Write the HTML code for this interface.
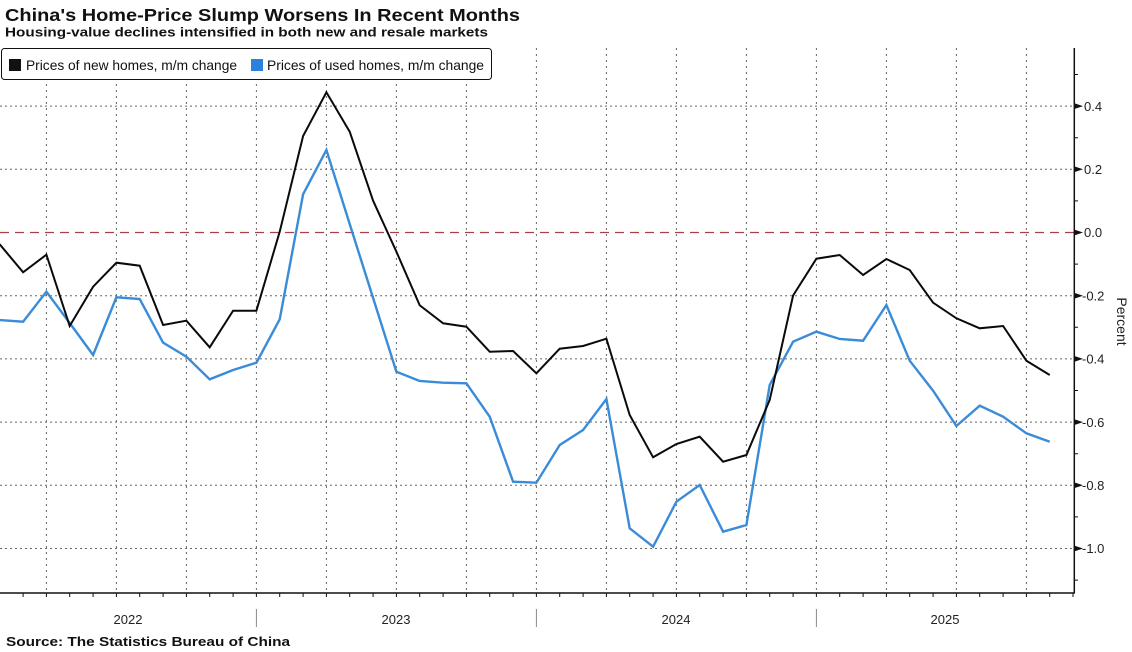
<!DOCTYPE html>
<html>
<head>
<meta charset="utf-8">
<style>
  html, body { margin: 0; padding: 0; background: #fff; }
  body { width: 1132px; height: 652px; overflow: hidden; }
  svg { display: block; }
  text { font-family: "Liberation Sans", "DejaVu Sans", sans-serif; }
</style>
</head>
<body>
<svg width="1132" height="652" viewBox="0 0 1132 652" xmlns="http://www.w3.org/2000/svg">
  <rect x="0" y="0" width="1132" height="652" fill="#ffffff"/>

  <text x="5" y="21" font-size="17.5" font-weight="bold" fill="#111" textLength="515" lengthAdjust="spacingAndGlyphs">China's Home-Price Slump Worsens In Recent Months</text>
  <text x="5" y="36.5" font-size="13" font-weight="bold" fill="#111" textLength="483" lengthAdjust="spacingAndGlyphs">Housing-value declines intensified in both new and resale markets</text>

  <path d="M0 106.1H1074M0 169.3H1074M0 295.7H1074M0 358.9H1074M0 422.1H1074M0 485.3H1074M0 548.5H1074" stroke="#666" stroke-width="1" stroke-dasharray="2 3" fill="none"/>

  <path d="M46.4 48V593M116.4 48V593M186.4 48V593M256.4 48V593M326.4 48V593M396.4 48V593M466.4 48V593M536.4 48V593M606.4 48V593M676.4 48V593M746.4 48V593M816.4 48V593M886.4 48V593M956.4 48V593M1026.4 48V593" stroke="#666" stroke-width="1" stroke-dasharray="2 4" fill="none"/>

  <line x1="0" y1="232.5" x2="1074" y2="232.5" stroke="#a8404c" stroke-width="1.2" stroke-dasharray="9 6"/>

  <rect x="1.5" y="48.5" width="490" height="31" rx="3" ry="3" fill="#fff" stroke="#111" stroke-width="1"/>
  <rect x="9" y="59" width="12" height="12" fill="#111"/>
  <text x="26" y="70" font-size="14" fill="#111" textLength="211" lengthAdjust="spacingAndGlyphs">Prices of new homes, m/m change</text>
  <rect x="251" y="59" width="12" height="12" fill="#2b82dc"/>
  <text x="267" y="70" font-size="14" fill="#111" textLength="217" lengthAdjust="spacingAndGlyphs">Prices of used homes, m/m change</text>

  <polyline fill="none" stroke="#3a8cd8" stroke-width="2.4" points="-0.3,320 23.1,321.7 46.4,291.7 69.7,323 93.1,355 116.4,297.3 139.7,299 163.1,342.7 186.4,356.7 209.7,379.3 233.1,370 256.4,362.7 279.7,319.3 303.1,194.3 326.4,150 349.7,224 373.1,298 396.4,371.7 419.7,381 443.1,382.7 466.4,383.3 489.7,416.7 513.1,481.7 536.4,482.7 559.7,445 583.1,430 606.4,399 629.7,528.3 653.1,546.7 676.4,501.7 699.7,485 723.1,531.7 746.4,525 769.7,385 793.1,341.7 816.4,331.7 839.7,339 863.1,340.7 886.4,305 909.7,360.7 933.1,390.7 956.4,426 979.7,405.7 1003.1,416.7 1026.4,433.3 1049.7,441.7"/>

  <polyline fill="none" stroke="#0a0a0a" stroke-width="2" points="-0.3,244.3 23.1,272.3 46.4,254.7 69.7,326 93.1,286.7 116.4,262.7 139.7,265.7 163.1,325 186.4,320.7 209.7,347.3 233.1,310.7 256.4,310.7 279.7,231.7 303.1,136 326.4,92.3 349.7,131.7 373.1,200.7 396.4,251.7 419.7,305.3 443.1,323.3 466.4,326.7 489.7,351.7 513.1,351 536.4,373.3 559.7,348.7 583.1,346 606.4,338.7 629.7,415 653.1,457.3 676.4,444 699.7,436.7 723.1,461.7 746.4,455 769.7,400 793.1,295.5 816.4,258.7 839.7,255 863.1,275 886.4,259 909.7,270 933.1,302.7 956.4,318.3 979.7,328.3 1003.1,326 1026.4,360.7 1049.7,375"/>

  <line x1="0" y1="593" x2="1074.5" y2="593" stroke="#111" stroke-width="1.5"/>
  <path d="M23.1 593v4M46.4 593v4M69.7 593v4M93.1 593v4M116.4 593v4M139.7 593v4M163.1 593v4M186.4 593v4M209.7 593v4M233.1 593v4M256.4 593v4M279.7 593v4M303.1 593v4M326.4 593v4M349.7 593v4M373.1 593v4M396.4 593v4M419.7 593v4M443.1 593v4M466.4 593v4M489.7 593v4M513.1 593v4M536.4 593v4M559.7 593v4M583.1 593v4M606.4 593v4M629.7 593v4M653.1 593v4M676.4 593v4M699.7 593v4M723.1 593v4M746.4 593v4M769.7 593v4M793.1 593v4M816.4 593v4M839.7 593v4M863.1 593v4M886.4 593v4M909.7 593v4M933.1 593v4M956.4 593v4M979.7 593v4M1003.1 593v4M1026.4 593v4M1049.7 593v4M1073 593v4" stroke="#111" stroke-width="1" fill="none"/>

  <path d="M256.4 609V627M536.4 609V627M816.4 609V627" stroke="#888" stroke-width="1" fill="none"/>

  <g font-size="13" fill="#222" text-anchor="middle">
    <text x="128" y="624">2022</text>
    <text x="396" y="624">2023</text>
    <text x="676" y="624">2024</text>
    <text x="945" y="624">2025</text>
  </g>

  <line x1="1074.3" y1="48" x2="1074.3" y2="593.5" stroke="#111" stroke-width="1.5"/>
  <path d="M1074 74.5h4M1074 137.7h4M1074 200.9h4M1074 264.1h4M1074 327.3h4M1074 390.5h4M1074 453.7h4M1074 516.9h4M1074 580.1h4" stroke="#111" stroke-width="1" fill="none"/>
  <path d="M1074 103.1v6l9 -3zM1074 166.3v6l9 -3zM1074 229.5v6l9 -3zM1074 292.7v6l9 -3zM1074 355.9v6l9 -3zM1074 419.1v6l9 -3zM1074 482.3v6l9 -3zM1074 545.5v6l9 -3z" fill="#111"/>
  <g font-size="13" fill="#222">
    <text x="1084" y="110.8">0.4</text>
    <text x="1084" y="174">0.2</text>
    <text x="1084" y="237.2">0.0</text>
    <text x="1082" y="300.4">-0.2</text>
    <text x="1082" y="363.6">-0.4</text>
    <text x="1082" y="426.8">-0.6</text>
    <text x="1082" y="490">-0.8</text>
    <text x="1082" y="553.2">-1.0</text>
  </g>
  <text x="0" y="0" font-size="14" fill="#222" text-anchor="middle" transform="translate(1117,321.5) rotate(90)">Percent</text>

  <text x="6" y="646" font-size="13" font-weight="bold" fill="#111" textLength="284" lengthAdjust="spacingAndGlyphs">Source: The Statistics Bureau of China</text>
</svg>
</body>
</html>
